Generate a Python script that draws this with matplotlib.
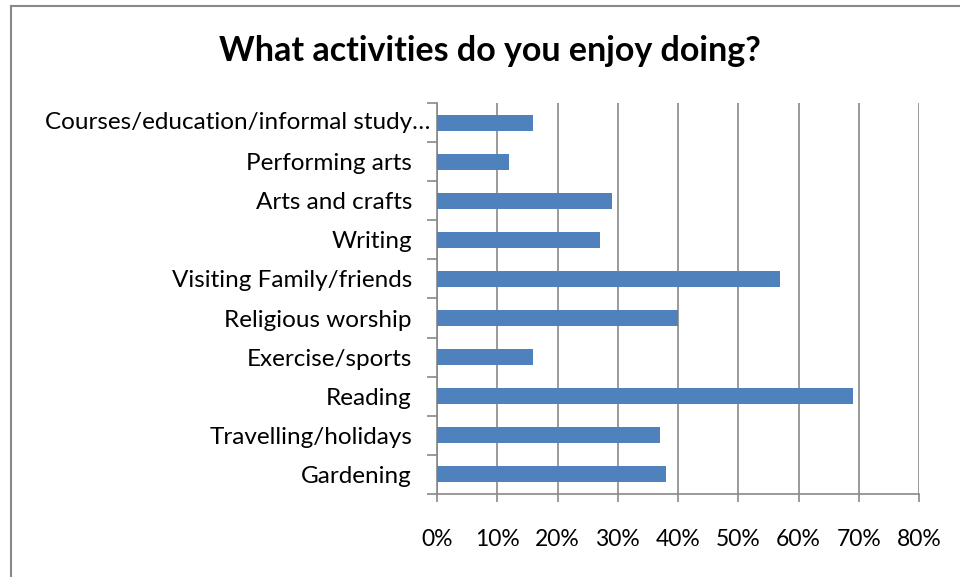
import numpy as np
import matplotlib
matplotlib.use('Agg')
import matplotlib.pyplot as plt
import matplotlib.transforms as mtransforms
from matplotlib.lines import Line2D

# survey answers, bottom to top
activities = ['Gardening', 'Travelling/holidays', 'Reading', 'Exercise/sports',
              'Religious worship', 'Visiting Family/friends', 'Writing',
              'Arts and crafts', 'Performing arts', 'Courses/education/informal study\u2026']
share = [38, 37, 69, 16, 40, 57, 27, 29, 12, 16]
xticks = [0, 10, 20, 30, 40, 50, 60, 70, 80]

plt.rcParams['font.family'] = ['Lato', 'DejaVu Sans']
grey = '#898989'

fig = plt.figure(figsize=(9.6, 5.77), dpi=100)
W, H = 960, 577
ax = fig.add_axes([437 / W, 1 - 494 / H, (919 - 437) / W, (494 - 103) / H])

y = np.arange(len(activities))
ax.barh(y, share, height=0.41, color='#4F81BD', zorder=3)

ax.set_xlim(0, 80)
ax.set_ylim(-0.5, len(activities) - 0.5)
ax.set_xticks(xticks)
ax.set_xticklabels([f'{t}%' for t in xticks], fontsize=16.5)
ax.xaxis.grid(True, color=grey, lw=1.2, zorder=0)

# boundary ticks between categories, names on minor ticks
ax.set_yticks(np.arange(-0.5, len(activities), 1.0))
ax.set_yticklabels([])
ax.set_yticks(y, minor=True)
# the long truncated name sticks out past the others, drawn separately
ax.set_yticklabels(activities[:-1] + [''], minor=True, fontsize=17.5)
ax.tick_params(axis='y', which='major', length=7, color=grey, width=1.2)
ax.tick_params(axis='y', which='minor', length=0, pad=18)
ax.tick_params(axis='x', length=6, color=grey, width=1.2, pad=19)

trans = mtransforms.blended_transform_factory(ax.transAxes, ax.transData)
ax.text(-7 / 482, y[-1], activities[-1], transform=trans, ha='right', va='center',
        fontsize=17.5)

for s in ['top', 'right']:
    ax.spines[s].set_visible(False)
for s in ['left', 'bottom']:
    ax.spines[s].set_color(grey)
    ax.spines[s].set_linewidth(1.2)

fig.text(490 / W, 1 - 51 / H, 'What activities do you enjoy doing?',
         ha='center', va='center', fontsize=24.5, fontweight='bold')

# chart frame
fig.add_artist(Line2D([11 / W, 11 / W], [0, 1 - 6 / H], color=grey, lw=1.5))
fig.add_artist(Line2D([11 / W, 1], [1 - 6 / H, 1 - 6 / H], color=grey, lw=1.5))

fig.savefig('out.png', dpi=100)
